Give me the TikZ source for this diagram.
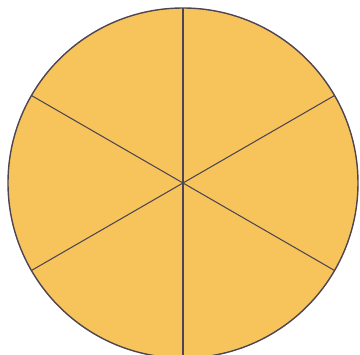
\documentclass[tikz,border=0pt]{standalone}
\usepackage{xcolor}
\usepackage{tikz}
\definecolor{pizza}{RGB}{247,196,92}
\definecolor{rim}{RGB}{78,68,82}
\begin{document}
\begin{tikzpicture}[x=0.02cm,y=-0.02cm]
\useasboundingbox(0,0)rectangle(360,355);
\clip(0,0)rectangle(360,355);
\coordinate(O)at(183,183);
\fill[pizza](O)circle(175);
\foreach \a in {30,90,150,210,270,330}
\draw[rim,line width=0.6pt](O)--++(\a:175);
\draw[rim,line width=0.8pt](O)circle(175);
\end{tikzpicture}
\end{document}
